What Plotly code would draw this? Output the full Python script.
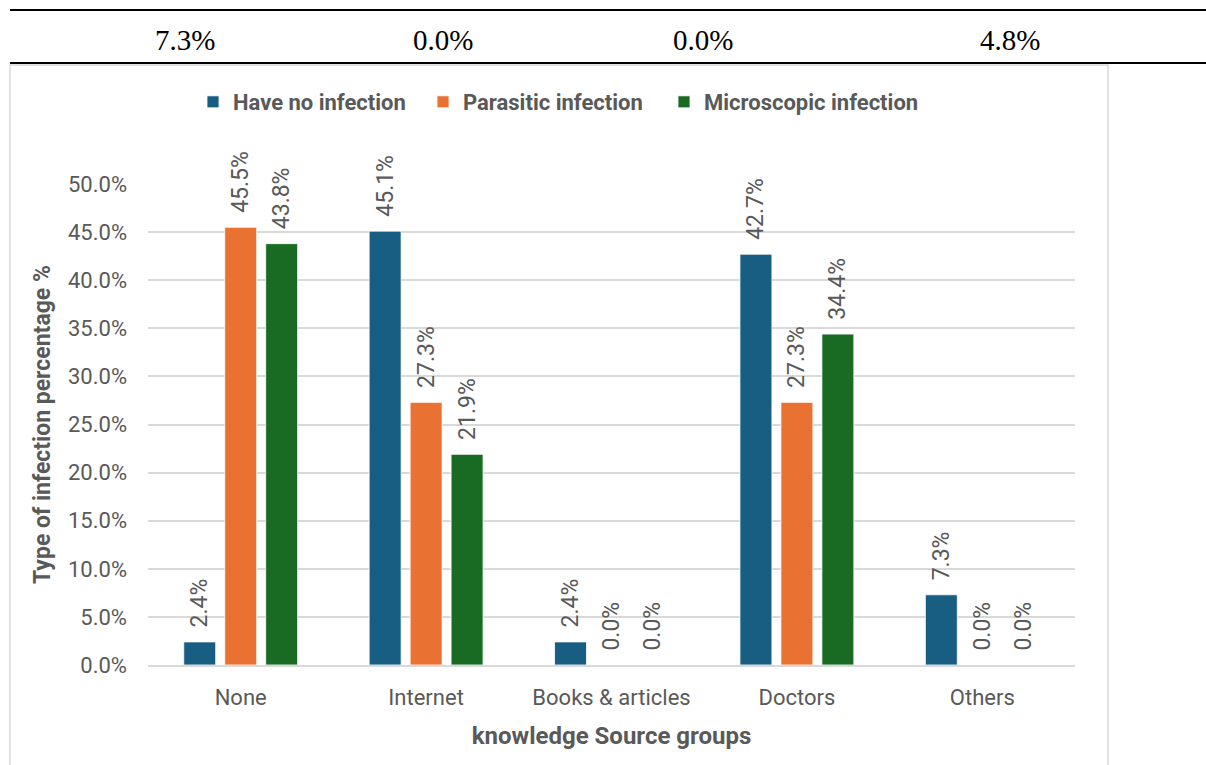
import plotly.graph_objects as go

categories = ["None", "Internet", "Books & articles", "Doctors", "Others"]
series_names = ["Have no infection", "Parasitic infection", "Microscopic infection"]
have_no_infection = [2.4, 45.1, 2.4, 42.7, 7.3]
parasitic_infection = [45.5, 27.3, 0.0, 27.3, 0.0]
microscopic_infection = [43.8, 21.9, 0.0, 34.4, 0.0]
colors = ["#175E82", "#E97132", "#196B24"]
top_row_labels = ["7.3%", "0.0%", "0.0%", "4.8%"]
top_row_x = [185, 443, 703, 1010]
y_ticks = [0, 5, 10, 15, 20, 25, 30, 35, 40, 45, 50]
legend_x = [193, 423, 664]

W, H = 1206, 765
GRAY = "#595959"
GRID = "#D9D9D9"
FONT = "Roboto"
PAD = "\u00a0\u00a0"

fig = go.Figure()
legend_ids = ["legend", "legend2", "legend3"]
for name, vals, col, lid in zip(series_names,
                                [have_no_infection, parasitic_infection, microscopic_infection],
                                colors, legend_ids):
    fig.add_trace(go.Bar(
        x=categories, y=vals, name=name, legend=lid, showlegend=True,
        marker=dict(color=col, line=dict(color="white", width=0.8)),
        text=[f"{PAD}{v:.1f}%" for v in vals],
        textposition="outside", textangle=-90,
        textfont=dict(family=FONT, size=23, color=GRAY),
        constraintext="none", cliponaxis=False,
    ))

legend_style = dict(orientation="h", xanchor="left", y=1 - 102 / H, yanchor="middle",
                    font=dict(family=FONT, size=22, color=GRAY, weight="bold"),
                    bgcolor="rgba(0,0,0,0)")
legends = {lid: dict(legend_style, x=lx / W) for lid, lx in zip(legend_ids, legend_x)}

fig.update_layout(
    width=W, height=H, autosize=False, showlegend=True,
    margin=dict(l=0, r=0, t=0, b=0, autoexpand=False),
    paper_bgcolor="white", plot_bgcolor="white",
    barmode="group", bargap=0.337, bargroupgap=0.22,
    font=dict(family=FONT, color=GRAY),
    **legends,
    xaxis=dict(domain=[148 / W, 1075 / W], showline=True, linecolor=GRID, linewidth=1.5,
               automargin=False, ticklabelstandoff=12,
               ticks="", tickfont=dict(family=FONT, size=22, color=GRAY),
               title=dict(text="<b>knowledge Source groups</b>",
                          font=dict(family=FONT, size=24, color=GRAY), standoff=18)),
    yaxis=dict(domain=[100 / H, 581 / H], range=[0, 50], tickvals=y_ticks,
               ticktext=[f"{v:.1f}%" for v in y_ticks], automargin=False,
               showgrid=True, gridcolor=GRID, gridwidth=1.5, zeroline=False,
               showline=False, ticks="", ticklabelstandoff=20,
               tickfont=dict(family=FONT, size=22, color=GRAY),
               title=dict(text="<b>Type of infection percentage %</b>",
                          font=dict(family=FONT, size=23, color=GRAY), standoff=10)),
)

# table fragment above the chart
fig.add_shape(type="line", xref="paper", yref="paper",
              x0=10 / W, x1=1, y0=1 - 10 / H, y1=1 - 10 / H,
              line=dict(color="black", width=2))
fig.add_shape(type="line", xref="paper", yref="paper",
              x0=10 / W, x1=1, y0=1 - 63 / H, y1=1 - 63 / H,
              line=dict(color="black", width=2))
# chart border
fig.add_shape(type="rect", xref="paper", yref="paper",
              x0=10 / W, x1=1108 / W, y0=-0.02, y1=1 - 65 / H,
              line=dict(color=GRID, width=1.5), layer="below")
for t, xp in zip(top_row_labels, top_row_x):
    fig.add_annotation(text=t, xref="paper", yref="paper",
                       x=xp / W, y=1 - 40 / H, xanchor="center", yanchor="middle",
                       showarrow=False,
                       font=dict(family="Liberation Serif", size=29, color="black"))

fig.write_html("out.html")
